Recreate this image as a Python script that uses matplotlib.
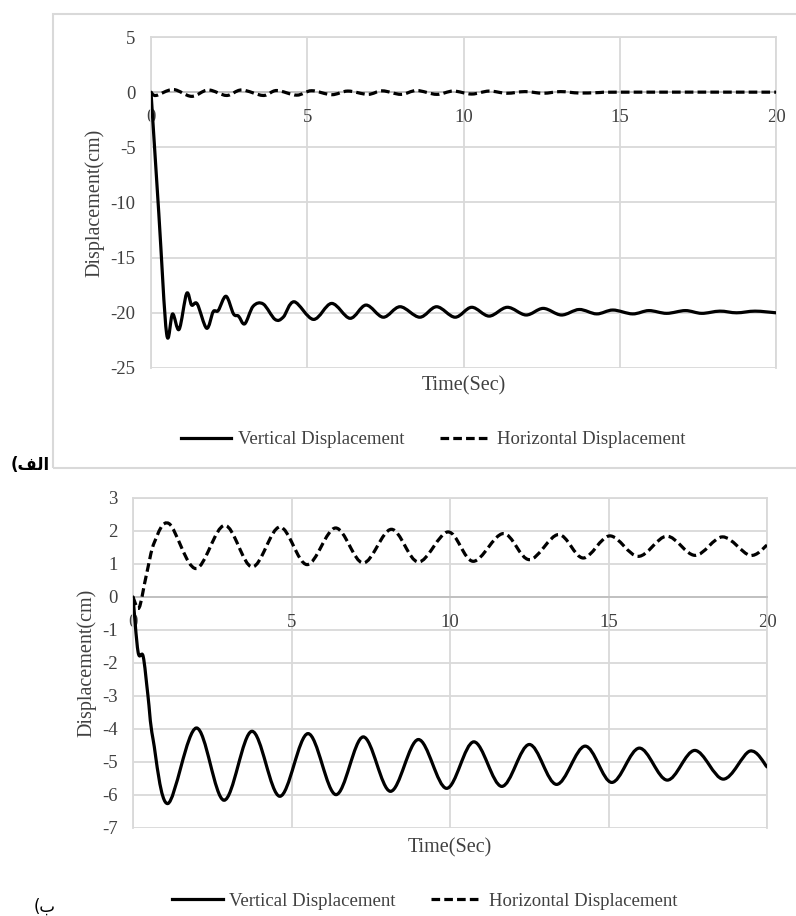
import numpy as np
import matplotlib
matplotlib.use("Agg")
import matplotlib.pyplot as plt
from matplotlib.path import Path
from matplotlib.patches import PathPatch, Rectangle
from matplotlib.lines import Line2D

# panel (a): time in sec, displacement in cm
a_vert_t = [0, 0.25, 0.5, 0.69, 0.9, 1.14, 1.3, 1.48, 1.78, 1.99, 2.15, 2.4,
            2.64, 2.8, 3.0, 3.27, 3.59, 3.97, 4.23, 4.58, 5.2, 5.78, 6.37, 6.88,
            7.43, 7.97, 8.6, 9.14, 9.73, 10.26, 10.82, 11.4, 12.0, 12.55, 13.13,
            13.7, 14.26, 14.78, 15.41, 15.93, 16.5, 17.1, 17.62, 18.2, 18.74,
            19.33, 20]
a_vert_y = [0, -11, -21.9, -20.1, -21.5, -18.25, -19.3, -19.2, -21.4, -19.9,
            -19.8, -18.5, -20.1, -20.3, -21.0, -19.4, -19.2, -20.6, -20.4, -19.0,
            -20.6, -19.15, -20.5, -19.3, -20.4, -19.45, -20.4, -19.45, -20.4,
            -19.5, -20.3, -19.5, -20.2, -19.6, -20.2, -19.7, -20.1, -19.75, -20.1,
            -19.8, -20.05, -19.8, -20.05, -19.85, -20.0, -19.85, -20.0]
a_horz_t = [0, 0.16, 0.71, 1.3, 1.83, 2.42, 2.9, 3.59, 4.02, 4.66, 5.14, 5.78, 6.3,
            6.94, 7.4, 8.0, 8.5, 9.14, 9.67, 10.26, 10.82, 11.38, 11.97, 12.55,
            13.1, 13.7, 14.3, 15.0, 20]
a_horz_y = [0, -0.3, 0.24, -0.38, 0.2, -0.3, 0.2, -0.3, 0.15, -0.27, 0.13, -0.23,
            0.1, -0.2, 0.12, -0.2, 0.15, -0.2, 0.1, -0.17, 0.1, -0.1, 0.05, -0.1,
            0.05, -0.08, -0.04, 0.0, 0.0]

# panel (b)
b_vert_t = [0, 0.16, 0.32, 0.47, 0.63, 1.1, 2.0, 2.87, 3.75, 4.63, 5.52, 6.4,
            7.26, 8.12, 9.0, 9.89, 10.75, 11.63, 12.5, 13.36, 14.26, 15.1, 15.97,
            16.85, 17.72, 18.62, 19.46, 20]
b_vert_y = [0, -1.67, -1.8, -2.98, -4.3, -6.26, -3.97, -6.16, -4.07, -6.04,
            -4.14, -5.99, -4.24, -5.89, -4.32, -5.8, -4.39, -5.74, -4.47, -5.68,
            -4.52, -5.62, -4.58, -5.55, -4.65, -5.52, -4.67, -5.15]
b_horz_t = [0, 0.19, 0.42, 0.68, 1.14, 1.98, 2.89, 3.76, 4.63, 5.49, 6.39, 7.26,
            8.15, 9.0, 9.94, 10.73, 11.68, 12.5, 13.42, 14.2, 15.04, 15.94, 16.84,
            17.73, 18.6, 19.46, 20]
b_horz_y = [0, -0.33, 0.66, 1.67, 2.22, 0.86, 2.17, 0.91, 2.12, 0.98, 2.09, 1.03,
            2.05, 1.06, 1.97, 1.08, 1.92, 1.13, 1.89, 1.18, 1.85, 1.23, 1.84, 1.26,
            1.82, 1.26, 1.57]

x_ticks = [0, 5, 10, 15, 20]
a_y_ticks = [5, 0, -5, -10, -15, -20, -25]
b_y_ticks = [3, 2, 1, 0, -1, -2, -3, -4, -5, -6, -7]

plt.rcParams['font.family'] = ['Liberation Serif', 'DejaVu Sans']
plt.rcParams['axes.unicode_minus'] = False
GRID = '#d9d9d9'
TXT = '#404040'
DASH = (0, (2.7, 1.3))


def smooth_path(t, y):
    # excel-like smoothed line: catmull-rom segments drawn as bezier curves
    pts = np.column_stack([t, y]).astype(float)
    n = len(pts)
    verts = [pts[0]]
    codes = [Path.MOVETO]
    for i in range(n - 1):
        p0 = pts[i - 1] if i > 0 else pts[i]
        p1 = pts[i]
        p2 = pts[i + 1]
        p3 = pts[i + 2] if i + 2 < n else pts[i + 1]
        verts += [p1 + (p2 - p0) / 6, p2 - (p3 - p1) / 6, p2]
        codes += [Path.CURVE4] * 3
    return Path(verts, codes)


def draw_panel(ax, vt, vy, ht, hy, ylim, yticks, ylab_x, xlab_y):
    ax.add_patch(PathPatch(smooth_path(vt, vy), fill=False, edgecolor='black',
                           lw=2.3, capstyle='round', joinstyle='round', zorder=3))
    ax.add_patch(PathPatch(smooth_path(ht, hy), fill=False, edgecolor='black',
                           lw=2.3, linestyle=DASH, zorder=3))
    ax.set_xlim(0, 20)
    ax.set_ylim(*ylim)
    ax.set_xticks(x_ticks)
    ax.set_yticks(yticks)
    ax.grid(True, color=GRID, lw=1.3)
    ax.set_axisbelow(True)
    for s in ['left', 'top', 'right']:
        ax.spines[s].set_color(GRID)
        ax.spines[s].set_linewidth(1.3)
    ax.spines['bottom'].set_position(('data', 0))
    ax.spines['bottom'].set_color('#bfbfbf')
    ax.spines['bottom'].set_linewidth(1.3)
    ax.tick_params(length=0, labelsize=13.5, labelcolor=TXT)
    ax.tick_params(axis='y', pad=11)
    ax.tick_params(axis='x', pad=12)
    ax.set_ylabel('Displacement(cm)', fontsize=14.5, color=TXT)
    ax.yaxis.set_label_coords(ylab_x, 0.5)
    ax.set_xlabel('Time(Sec)', fontsize=14.5, color=TXT)
    ax.xaxis.set_label_coords(0.5, xlab_y)


fig = plt.figure(figsize=(7.96, 9.16), dpi=100)

ax1 = fig.add_axes([0.1897, 0.5983, 0.7852, 0.3613])
draw_panel(ax1, a_vert_t, a_vert_y, a_horz_t, a_horz_y, (-25, 5), a_y_ticks, -0.075, -0.024)

ax2 = fig.add_axes([0.1671, 0.0961, 0.7965, 0.3603])
draw_panel(ax2, b_vert_t, b_vert_y, b_horz_t, b_horz_y, (-7, 3), b_y_ticks, -0.058, -0.032)

# border around the first chart
fig.add_artist(Rectangle((0.0666, 0.4891), 0.94, 0.4956, transform=fig.transFigure,
                         fill=False, edgecolor=GRID, lw=1.5))

handles = [Line2D([], [], color='black', lw=2.3),
           Line2D([], [], color='black', lw=2.3, linestyle=DASH)]
names = ['Vertical Displacement', 'Horizontal Displacement']
for cx, cy in [(0.5440, 0.5200), (0.5335, 0.0160)]:
    fig.legend(handles, names, loc='center', bbox_to_anchor=(cx, cy), ncol=2,
               frameon=False, fontsize=13.5, handlelength=2.7, handletextpad=0.35,
               columnspacing=1.9, labelcolor=TXT)

# panel labels (arabic, written in visual order with presentation forms)
fig.text(0.0377, 0.4924, '(\ufed2\ufedf\ufe8d', family=['DejaVu Sans'],
         fontweight='bold', fontsize=12, ha='center', va='center')
fig.text(0.0565, 0.0098, '(\ufe8f', family=['DejaVu Sans'],
         fontsize=12, ha='center', va='center')

fig.savefig('out.png', dpi=100)
